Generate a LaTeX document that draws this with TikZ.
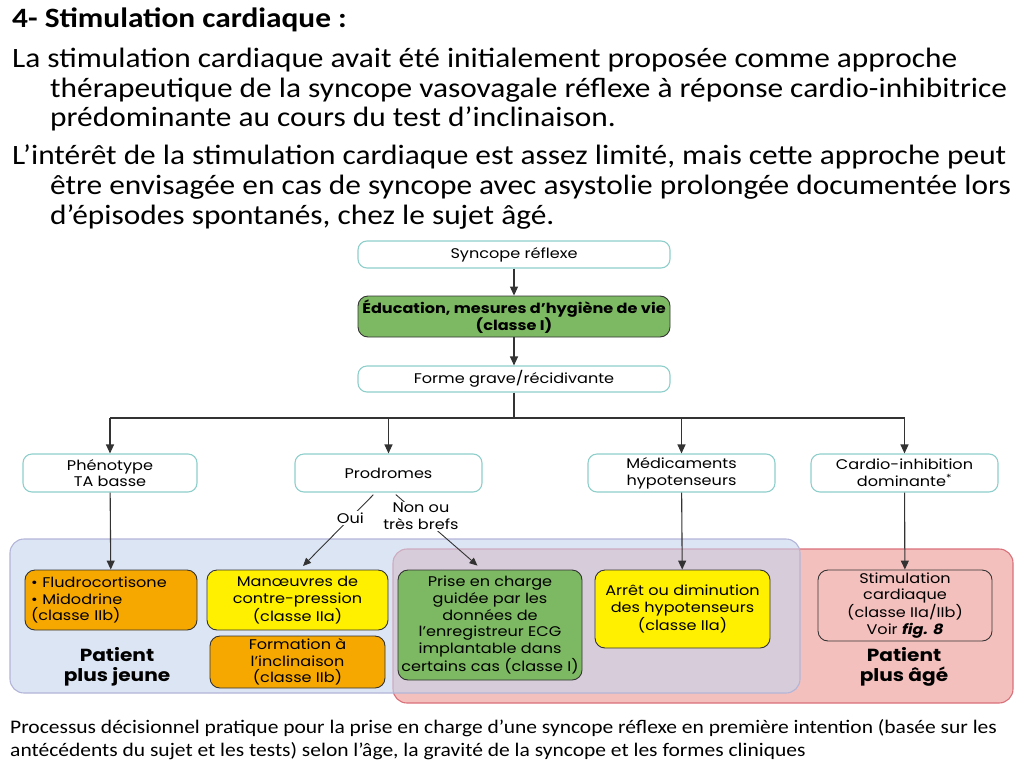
\documentclass[tikz,border=0pt]{standalone}
\usepackage{fontspec}
\setmainfont[FakeStretch=1.12]{Carlito}
\newfontfamily\dfont[FakeStretch=1.15]{Poppins}
\usetikzlibrary{arrows.meta}
\definecolor{boxteal}{HTML}{8ECFCB}
\definecolor{gboxfill}{HTML}{7DB862}
\definecolor{oboxfill}{HTML}{F6A800}
\definecolor{yboxfill}{HTML}{FFF000}
\definecolor{blueband}{RGB}{197,212,237}
\definecolor{blueedge}{HTML}{B3B5D8}
\definecolor{redband}{RGB}{244,192,189}
\definecolor{rededge}{HTML}{D9707A}
\definecolor{lineink}{HTML}{333333}
\tikzset{
  dtext/.style={font=\dfont\fontsize{14}{16.7}\selectfont},
  wbox/.style={dtext, draw=boxteal, fill=white, line width=1.1pt, rounded corners=9pt, inner sep=0pt, align=center},
  cbox/.style={dtext, draw=lineink, line width=0.9pt, rounded corners=10pt, inner sep=0pt, align=center},
  conn/.style={draw=lineink, line width=1.1pt},
  arr/.style={conn, -{Triangle[length=9pt,width=8pt]}},
  thinarr/.style={draw=lineink, line width=0.9pt, -{Triangle[length=8pt,width=7pt]}},
  slidetext/.style={anchor=base west, inner sep=0pt, font=\fontsize{28}{30}\selectfont},
  captext/.style={anchor=base west, inner sep=0pt, font=\fontsize{19.2}{23}\selectfont},
  patient/.style={font=\dfont\bfseries\fontsize{17.5}{20}\selectfont, align=center, inner sep=0pt},
}
\begin{document}
\begin{tikzpicture}[x=1pt,y=-1pt]
\useasboundingbox (0,0) rectangle (1024,768);
% slide text
\node[slidetext, font=\bfseries\fontsize{28}{30}\selectfont] (title) at (12,28) {4- Stimulation cardiaque :};
\node[slidetext] (p1a) at (12,67) {La stimulation cardiaque avait été initialement proposée comme approche};
\node[slidetext] (p1b) at (50,97) {thérapeutique de la syncope vasovagale réflexe à réponse cardio-inhibitrice};
\node[slidetext] (p1c) at (50,126) {prédominante au cours du test d’inclinaison.};
\node[slidetext] (p2a) at (12,164) {L’intérêt de la stimulation cardiaque est assez limité, mais cette approche peut};
\node[slidetext] (p2b) at (50,194) {être envisagée en cas de syncope avec asystolie prolongée documentée lors};
\node[slidetext] (p2c) at (50,224) {d’épisodes spontanés, chez le sujet âgé.};
% regions
\path[fill=redband, draw=rededge, line width=1.1pt, rounded corners=14pt] (393,549) rectangle (1013,703);
\path[fill=blueband, fill opacity=0.6, draw=blueedge, line width=1.1pt, rounded corners=14pt] (10,539) rectangle (800,693);
% top chain
\node[wbox, minimum width=312pt, minimum height=27pt] (syn) at (514,254.5) {Syncope réflexe};
\node[cbox, fill=gboxfill, font=\dfont\bfseries\fontsize{14}{17}\selectfont, minimum width=312pt, minimum height=41pt] (edu) at (514,316.5) {Éducation, mesures d’hygiène de vie\\(classe I)};
\node[wbox, minimum width=312pt, minimum height=26pt] (forme) at (514,379) {Forme grave/récidivante};
% second row
\node[wbox, minimum width=174pt, minimum height=38pt] (phen) at (110,473) {Phénotype\\TA basse};
\node[wbox, minimum width=187pt, minimum height=38pt] (prod) at (388.5,473) {Prodromes};
\node[wbox, minimum width=187pt, minimum height=38pt] (med) at (681.5,473) {Médicaments\\hypotenseurs};
\node[wbox, minimum width=187pt, minimum height=38pt] (cardio) at (904.5,473) {Cardio-inhibition\\dominante\textsuperscript{*}};
% treatment boxes
\node[cbox, fill=oboxfill, minimum width=172pt, minimum height=60pt, text width=160pt, align=left] (fludro) at (111,600) {\textbullet\ Fludrocortisone\\\textbullet\ Midodrine\\(classe IIb)};
\node[cbox, fill=yboxfill, minimum width=181pt, minimum height=60pt] (manoe) at (297.5,600) {Manœuvres de\\contre-pression\\(classe IIa)};
\node[cbox, fill=oboxfill, minimum width=175pt, minimum height=52pt] (formi) at (297.5,662) {Formation à\\l’inclinaison\\(classe IIb)};
\node[cbox, fill=gboxfill, minimum width=184pt, minimum height=110pt] (prise) at (490,625) {Prise en charge\\guidée par les\\données de\\l’enregistreur ECG\\implantable dans\\certains cas (classe I)};
\node[cbox, fill=yboxfill, minimum width=175pt, minimum height=78pt] (arret) at (682.5,609) {Arrêt ou diminution\\des hypotenseurs\\(classe IIa)};
\node[cbox, fill=redband, minimum width=174pt, minimum height=71pt] (stim) at (905,605.5) {Stimulation\\cardiaque\\(classe IIa/IIb)\\Voir \textbf{\textit{fig. 8}}};
\node[patient] (young) at (117,667) {Patient\\plus jeune};
\node[patient] (old) at (904,667) {Patient\\plus âgé};
% connectors
\draw[arr] (syn) -- (edu);
\draw[arr] (edu) -- (forme);
\coordinate (bus) at (514,418);
\draw[conn] (forme) -- (bus);
\draw[conn] (phen.north |- bus) -- (cardio.north |- bus);
\draw[arr] (phen.north |- bus) -- (phen.north);
\draw[arr] (prod.north |- bus) -- (prod.north);
\draw[arr] (med.north |- bus) -- (med.north);
\draw[arr] (cardio.north |- bus) -- (cardio.north);
\draw[arr] (phen) -- (fludro);
\draw[arr] (med) -- (arret);
\draw[arr] (cardio) -- (stim);
\draw[thinarr, shorten >=5pt, shorten <=3pt] ([xshift=-13pt]prod.south) -- node[pos=0.33, dtext, fill=white, inner sep=2pt] (oui) {Oui} ([xshift=2pt]manoe.north);
\draw[thinarr, shorten >=6pt, shorten <=3pt] ([xshift=5pt]prod.south) -- node[pos=0.31, dtext, fill=white, inner sep=1pt, align=center] (non) {Non ou\\très brefs} ([xshift=-8pt]prise.north);
% caption
\node[captext] (cap1) at (10,733) {Processus décisionnel pratique pour la prise en charge d’une syncope réflexe en première intention (basée sur les};
\node[captext] (cap2) at (10,756) {antécédents du sujet et les tests) selon l’âge, la gravité de la syncope et les formes cliniques};
\end{tikzpicture}
\end{document}
